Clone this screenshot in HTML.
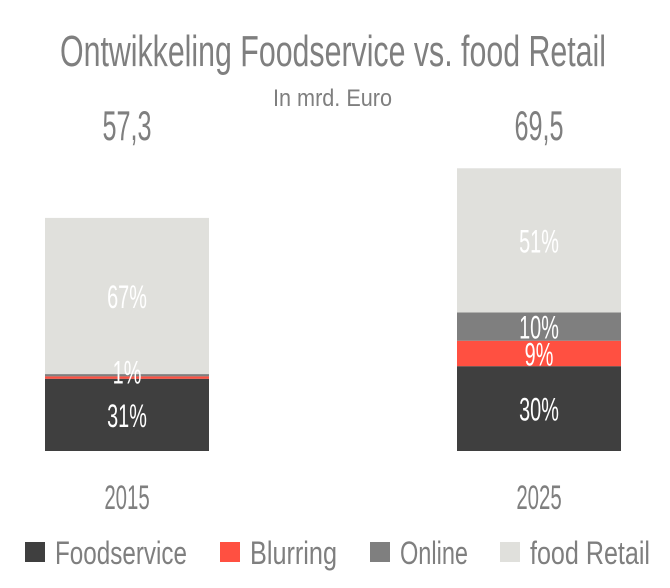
<!DOCTYPE html>
<html><head><meta charset="utf-8"><style>
html,body{margin:0;padding:0;background:#fff;}
svg text{font-family:"Liberation Sans",sans-serif;}
</style></head><body>
<svg id="chart" width="670" height="583" viewBox="0 0 670 583" xmlns="http://www.w3.org/2000/svg">
<text x="60" y="66" font-size="44" fill="#7f7f7f" textLength="546" lengthAdjust="spacingAndGlyphs">Ontwikkeling Foodservice vs. food Retail</text>
<text x="273" y="106" font-size="24" fill="#7f7f7f" textLength="119" lengthAdjust="spacingAndGlyphs">In mrd. Euro</text>
<g id="bars"></g>
<g id="legend"></g>
</svg>
<script>
const years = ["2015", "2025"];
const totals = [57.3, 69.5];
const totalLabels = ["57,3", "69,5"];
const seriesNames = ["Foodservice", "Blurring", "Online", "food Retail"];
const foodservice = [31, 30];
const blurring = [1, 9];
const online = [1, 10];
const foodRetail = [67, 51];
const pctLabels = [["31%", "1%", "", "67%"], ["30%", "9%", "10%", "51%"]];

const colors = ["#3f3f3f", "#ff5041", "#7f7f7f", "#e0e0dc"];
const NS = "http://www.w3.org/2000/svg";
const baseY = 451, pxPerUnit = 4.068;
const barLeft = [45, 457], barW = 164;
const yScale = v => baseY - v * pxPerUnit;
const series = [foodservice, blurring, online, foodRetail];
const g = document.getElementById("bars");
function mk(tag, attrs, parent){const e=document.createElementNS(NS,tag);for(const k in attrs)e.setAttribute(k,attrs[k]);parent.appendChild(e);return e;}

years.forEach((yr, i) => {
  const x = barLeft[i];
  const sum = series.reduce((a, s) => a + s[i], 0);
  let cum = 0;
  series.forEach((s, j) => {
    const v0 = totals[i] * cum / sum, v1 = totals[i] * (cum + s[i]) / sum;
    const r = mk("rect", {x: x, y: yScale(v1), width: barW, height: yScale(v0) - yScale(v1), fill: colors[j]}, g);
    
    
    cum += s[i];
  });
  // labels
  cum = 0;
  series.forEach((s, j) => {
    const mid = totals[i] * (cum + s[i] / 2) / sum;
    cum += s[i];
    const lab = pctLabels[i][j];
    if (!lab) return;
    let yy = yScale(mid) + 12;
    if (i === 0 && j === 1) yy = yScale(mid) + 6;
    const t = mk("text", {x: x + barW / 2, y: yy, "font-size": 32, fill: "#fff", "text-anchor": "middle", transform: "translate(" + (x + barW / 2) + ",0) scale(0.62,1) translate(" + (-(x + barW / 2)) + ",0)"}, g);
    t.textContent = lab;
    
    
  });
  const cx = x + barW / 2;
  const tt = mk("text", {x: cx, y: 140, "font-size": 42, fill: "#7f7f7f", "text-anchor": "middle", transform: "translate(" + cx + ",0) scale(0.6,1) translate(" + (-cx) + ",0)"}, g);
  tt.textContent = totalLabels[i];
  
  
  const yl = mk("text", {x: cx, y: 509, "font-size": 34, fill: "#7f7f7f", "text-anchor": "middle", transform: "translate(" + cx + ",0) scale(0.6,1) translate(" + (-cx) + ",0)"}, g);
  yl.textContent = yr;
  
  
});

const lg = document.getElementById("legend");
const legX = [25, 220, 370, 500], legTextW = [132, 87, 68, 120];
seriesNames.forEach((n, j) => {
  const r = mk("rect", {x: legX[j], y: 542, width: 20, height: 20, fill: colors[j]}, lg);
  
  
  const t = mk("text", {x: legX[j] + 30, y: 564, "font-size": 32, fill: "#7f7f7f", textLength: legTextW[j], lengthAdjust: "spacingAndGlyphs"}, lg);
  t.textContent = n;
  
  
});
</script>
</body></html>
